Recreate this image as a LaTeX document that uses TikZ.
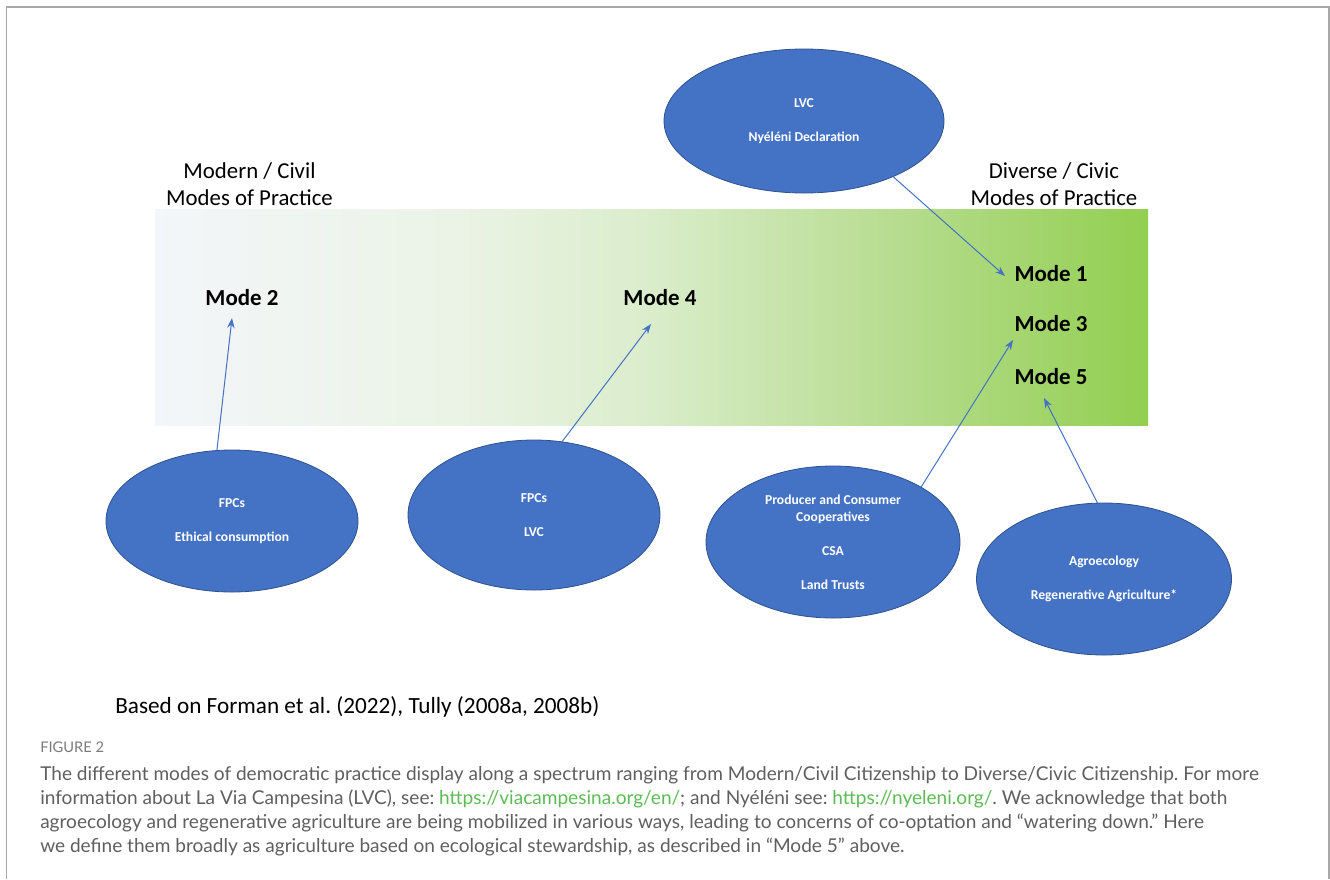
\documentclass[tikz,border=0pt]{standalone}
\usepackage{fontspec}
\setmainfont{Carlito}
\newfontfamily\capfont{Lato}
\usetikzlibrary{shapes.geometric,arrows.meta}
\frenchspacing
\definecolor{frameg}{HTML}{A8A8A8}
\definecolor{ellfill}{HTML}{4472C4}
\definecolor{elldraw}{HTML}{2F528F}
\definecolor{arrowc}{HTML}{4472C4}
\definecolor{capg}{HTML}{5F5F5F}
\definecolor{figg}{HTML}{7A7A7A}
\definecolor{linkg}{HTML}{5DBB55}
\definecolor{g0}{HTML}{F3F6FA}
\definecolor{g1}{HTML}{EBF3E6}
\definecolor{g2}{HTML}{DAEDCB}
\definecolor{g3}{HTML}{B6DC8E}
\definecolor{g4}{HTML}{92CF50}
\pgfdeclarehorizontalshading{modeshade}{100bp}{color(0bp)=(g0); color(25bp)=(g0); color(40bp)=(g1); color(50bp)=(g2); color(62.5bp)=(g3); color(75bp)=(g4); color(100bp)=(g4)}
\newcommand{\lnk}[1]{\textcolor{linkg}{#1}}
\tikzset{
  ell/.style={ellipse, fill=ellfill, draw=elldraw, line width=0.6pt, inner sep=0pt,
    text=white, align=center, font=\fontsize{10.2}{12.8}\selectfont\bfseries},
  modelbl/.style={font=\fontsize{17.2}{20.6}\selectfont\bfseries, inner sep=0pt},
  heading/.style={font=\fontsize{17.1}{20.6}\selectfont, align=center, inner sep=0pt},
  conn/.style={draw=arrowc, line width=0.75pt, -{Stealth[length=7.5pt,width=5.5pt]}},
  captxt/.style={font=\capfont\fontsize{14.3}{17}\selectfont, text=capg, anchor=base west, inner sep=0pt},
}
\begin{document}
\begin{tikzpicture}[x=0.75pt,y=-0.75pt]
\useasboundingbox (0,0) rectangle (1330,879);
% frame
\draw[frameg, line width=1.1pt] (6.5,879) -- (6.5,7) -- (1329,7) -- (1329,879);
% gradient band
\path[shading=modeshade, shading angle=0] (155,209) rectangle (1148,425);
% headings
\node[heading] (hl) at (249.5,184) {Modern / Civil\\Modes of Practice};
\node[heading] (hr) at (1054,184) {Diverse / Civic\\Modes of Practice};
% mode labels
\node[modelbl] (m2) at (242,298) {Mode 2};
\node[modelbl] (m4) at (660,298) {Mode 4};
\node[modelbl] (m1) at (1051,274) {Mode 1};
\node[modelbl] (m3) at (1051,324) {Mode 3};
\node[modelbl] (m5) at (1051,377) {Mode 5};
% ellipses
\node[ell, minimum width=210pt, minimum height=108pt] (eT) at (804,121) {LVC\\[12.8pt]Nyéléni Declaration};
\node[ell, minimum width=189pt, minimum height=106.5pt] (e1) at (232,521) {FPCs\\[12.8pt]Ethical consumption};
\node[ell, minimum width=189pt, minimum height=112.5pt] (e2) at (534,515) {FPCs\\[12.8pt]LVC};
\node[ell, minimum width=190.5pt, minimum height=114pt] (eP) at (833,542) {Producer and Consumer\\Cooperatives\\[12.8pt]CSA\\[12.8pt]Land Trusts};
\node[ell, minimum width=191.25pt, minimum height=114pt] (eA) at (1104,579) {Agroecology\\[12.8pt]Regenerative Agriculture*};
% arrow tips
\coordinate (t2) at (232,318);
\coordinate (t4) at (651,324);
\coordinate (t1) at (1005,276);
\coordinate (t3) at (1013,340);
\coordinate (t5) at (1044,398);
% connectors
\draw[conn] (e1.102) -- (t2);
\draw[conn] (e2.69) -- (t4);
\draw[conn] (eT.-32) -- (t1);
\draw[conn] (eP.32) -- (t3);
\draw[conn] (eA.95) -- (t5);
% source
\node[font=\fontsize{17.4}{20}\selectfont, anchor=base west, inner sep=0pt] (src) at (115,713) {Based on Forman et al. (2022), Tully (2008a, 2008b)};
% caption
\node[font=\capfont\fontsize{11}{13}\selectfont, text=figg, anchor=base west, inner sep=0pt] (fig) at (40,752) {FIGURE 2};
\node[captxt] (c1) at (40,780) {The different modes of democratic practice display along a spectrum ranging from Modern/Civil Citizenship to Diverse/Civic Citizenship. For more};
\node[captxt] (c2) at (40,804.3) {information about La Via Campesina (LVC), see: \lnk{https://viacampesina.org/en/}; and Nyéléni see: \lnk{https://nyeleni.org/}. We acknowledge that both};
\node[captxt] (c3) at (40,828.6) {agroecology and regenerative agriculture are being mobilized in various ways, leading to concerns of co-optation and “watering down.” Here};
\node[captxt] (c4) at (40,852.9) {we define them broadly as agriculture based on ecological stewardship, as described in “Mode 5” above.};
\end{tikzpicture}
\end{document}
